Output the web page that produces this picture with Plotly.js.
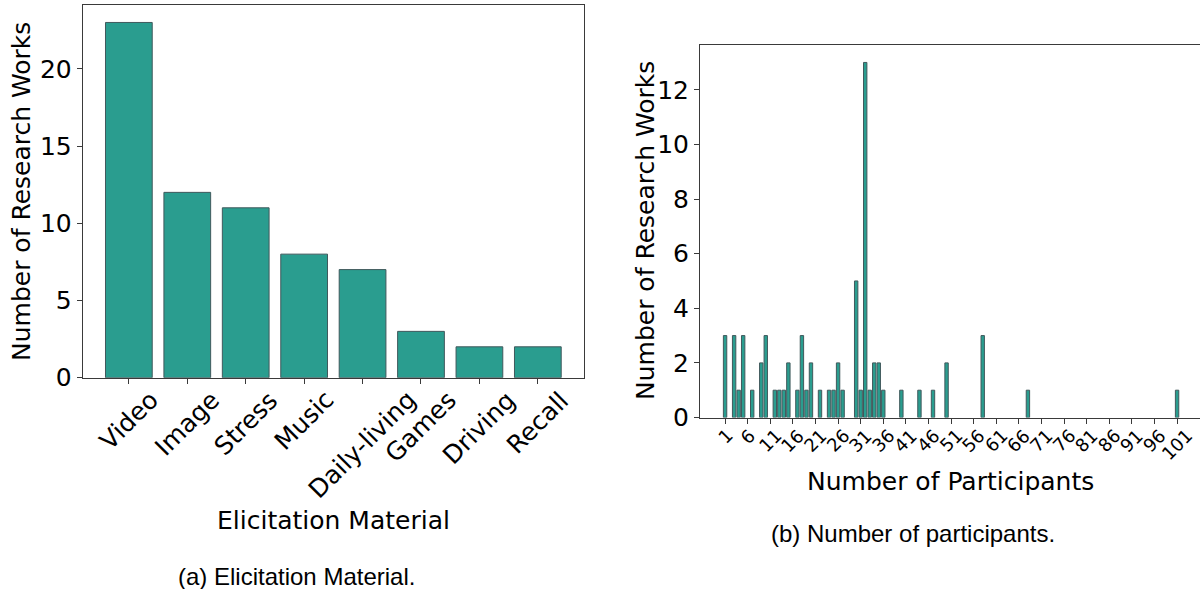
<!DOCTYPE html>
<html>
<head>
<meta charset="utf-8">
<script src="https://cdn.plot.ly/plotly-3.0.1.min.js"></script>
<style>html,body{margin:0;padding:0;background:#fff;}#chart{width:1200px;height:589px;}</style>
</head>
<body>
<div id="chart"></div>
<script>
// Panel (a): elicitation material
const materialCategories = ["Video", "Image", "Stress", "Music", "Daily-living", "Games", "Driving", "Recall"];
const materialCounts = [23, 12, 11, 8, 7, 3, 2, 2];

// Panel (b): number of participants
const participantValues = [1, 3, 4, 5, 7, 9, 10, 12, 13, 14, 15, 17, 18, 19, 20, 22, 24, 25, 26, 27, 30, 31, 32, 33, 34, 35, 36, 40, 44, 47, 50, 58, 68, 101];
const participantCounts = [3, 3, 1, 3, 1, 2, 3, 1, 1, 1, 2, 1, 3, 1, 2, 1, 1, 1, 2, 1, 5, 1, 13, 1, 2, 2, 1, 1, 1, 1, 2, 3, 1, 1];
const participantTicks = [1, 6, 11, 16, 21, 26, 31, 36, 41, 46, 51, 56, 61, 66, 71, 76, 81, 86, 91, 96, 101];

const fill = '#2a9d8f';
const edge = '#40595c';
const axisColor = '#3a3a3a';
const tickFont = {family: 'DejaVu Sans', size: 25, color: '#000'};
const titleFont = {family: 'DejaVu Sans', size: 25, color: '#000'};
const captionFont = {family: 'Liberation Sans', size: 24, color: '#000'};

const traces = [
  {type: 'bar', x: materialCategories, y: materialCounts, width: 0.8,
   marker: {color: fill, line: {color: edge, width: 1}}, xaxis: 'x', yaxis: 'y', hoverinfo: 'x+y'},
  {type: 'bar', x: participantValues, y: participantCounts, width: 0.75,
   marker: {color: fill, line: {color: edge, width: 1}}, xaxis: 'x2', yaxis: 'y2', hoverinfo: 'x+y'}
];

const annotations = [];
materialCategories.forEach(c => annotations.push({
  x: c, y: 0, xref: 'x', yref: 'y', text: c, textangle: -45, showarrow: false,
  xanchor: 'center', yanchor: 'top', yshift: -5, font: tickFont
}));
participantTicks.forEach(t => annotations.push({
  x: t, y: 0, xref: 'x2', yref: 'y2', text: String(t), textangle: -45, showarrow: false,
  xanchor: 'center', yanchor: 'top', yshift: -5, font: {family: 'DejaVu Sans', size: 18, color: '#000'}
}));
// Axis titles and captions
annotations.push(
  {x: 22/1200, y: 1 - 192/589, xref: 'paper', yref: 'paper', text: 'Number of Research Works', textangle: -90,
   showarrow: false, xanchor: 'center', yanchor: 'middle', font: titleFont},
  {x: 645/1200, y: 1 - 231/589, xref: 'paper', yref: 'paper', text: 'Number of Research Works', textangle: -90,
   showarrow: false, xanchor: 'center', yanchor: 'middle', font: titleFont},
  {x: 333/1200, y: 1 - 520/589, xref: 'paper', yref: 'paper', text: 'Elicitation Material',
   showarrow: false, xanchor: 'center', yanchor: 'middle', font: titleFont},
  {x: 950/1200, y: 1 - 481/589, xref: 'paper', yref: 'paper', text: 'Number of Participants',
   showarrow: false, xanchor: 'center', yanchor: 'middle', font: titleFont},
  {x: 296/1200, y: 1 - 576/589, xref: 'paper', yref: 'paper', text: '(a) Elicitation Material.',
   showarrow: false, xanchor: 'center', yanchor: 'middle', font: captionFont},
  {x: 913/1200, y: 1 - 533/589, xref: 'paper', yref: 'paper', text: '(b) Number of participants.',
   showarrow: false, xanchor: 'center', yanchor: 'middle', font: captionFont}
);

const layout = {
  width: 1200, height: 589,
  margin: {l: 0, r: 0, t: 0, b: 0},
  paper_bgcolor: '#fff', plot_bgcolor: '#fff',
  showlegend: false,
  bargap: 0,
  xaxis: {domain: [82.7/1200, 584/1200], range: [-0.79, 7.79], type: 'category',
          showline: true, mirror: true, linecolor: axisColor, linewidth: 1,
          ticks: 'outside', ticklen: 5, tickcolor: axisColor, showticklabels: false,
          showgrid: false, zeroline: false, anchor: 'y'},
  yaxis: {domain: [1 - 377.7/589, 1 - 4.7/589], range: [0, 24.15],
          tickvals: [0, 5, 10, 15, 20], showline: true, mirror: true, linecolor: axisColor, linewidth: 1,
          ticks: 'outside', ticklen: 5, tickcolor: axisColor, tickfont: tickFont,
          showgrid: false, zeroline: false, anchor: 'x'},
  xaxis2: {domain: [700/1200, 1], range: [-4.55, 106.07],
           tickmode: 'array', tickvals: participantTicks, showticklabels: false,
           showline: true, mirror: true, linecolor: axisColor, linewidth: 1,
           ticks: 'outside', ticklen: 5, tickcolor: axisColor,
           showgrid: false, zeroline: false, anchor: 'y2'},
  yaxis2: {domain: [1 - 417.5/589, 1 - 44.7/589], range: [0, 13.65],
           tickvals: [0, 2, 4, 6, 8, 10, 12], showline: true, mirror: false, linecolor: axisColor, linewidth: 1,
           ticks: 'outside', ticklen: 5, tickcolor: axisColor, tickfont: tickFont,
           showgrid: false, zeroline: false, anchor: 'x2'},
  annotations: annotations
};

Plotly.newPlot('chart', traces, layout, {displayModeBar: false, staticPlot: true});
</script>
</body>
</html>
